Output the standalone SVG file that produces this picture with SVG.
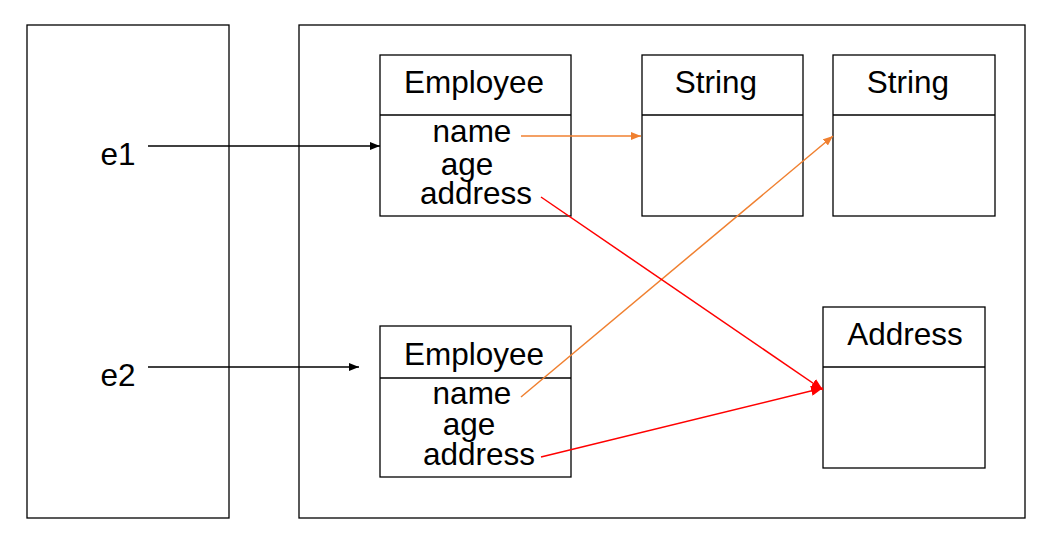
<svg xmlns="http://www.w3.org/2000/svg" width="1054" height="543" viewBox="0 0 1054 543">
<style>
.box{fill:#fff;stroke:#000;stroke-width:1.3}
.div{stroke:#000;stroke-width:1.3}
.t{font-family:"Liberation Sans",Arial,sans-serif;font-size:31.5px;fill:#000;text-anchor:middle}
.blk{stroke:#000;stroke-width:1.5;fill:none}
.org{stroke:#F08030;stroke-width:1.5;fill:none}
.red{stroke:#FF0000;stroke-width:1.5;fill:none}
</style>
<defs>
<marker id="ab" markerWidth="10" markerHeight="8" refX="10" refY="4" orient="auto" markerUnits="userSpaceOnUse"><path d="M0,0 L10,4 L0,8 z" fill="#000"/></marker>
<marker id="ao" markerWidth="10" markerHeight="8" refX="10" refY="4" orient="auto" markerUnits="userSpaceOnUse"><path d="M0,0 L10,4 L0,8 z" fill="#F08030"/></marker>
<marker id="ar" markerWidth="12" markerHeight="10" refX="12" refY="5" orient="auto" markerUnits="userSpaceOnUse"><path d="M0,0 L12,5 L0,10 z" fill="#FF0000"/></marker>
</defs>
<g id="stack"><rect class="box" x="27" y="25" width="202" height="493"/>
<text class="t" x="118" y="165">e1</text>
<text class="t" x="118" y="386">e2</text></g>
<g id="heap"><rect class="box" x="299" y="25" width="726" height="493"/></g>
<g id="employee1"><rect class="box" x="380" y="55" width="191" height="161"/><line class="div" x1="380" y1="115" x2="571" y2="115"/>
<text class="t" x="474" y="93">Employee</text>
<text class="t" x="472" y="142">name</text>
<text class="t" x="467" y="175">age</text>
<text class="t" x="476" y="204">address</text></g>
<g id="string1"><rect class="box" x="642" y="55" width="161" height="161"/><line class="div" x1="642" y1="115" x2="803" y2="115"/>
<text class="t" x="716" y="93">String</text></g>
<g id="string2"><rect class="box" x="833" y="55" width="162" height="161"/><line class="div" x1="833" y1="115" x2="995" y2="115"/>
<text class="t" x="908" y="93">String</text></g>
<g id="address"><rect class="box" x="823" y="307" width="162" height="161"/><line class="div" x1="823" y1="367" x2="985" y2="367"/>
<text class="t" x="905" y="345">Address</text></g>
<g id="employee2"><rect class="box" x="380" y="326" width="191" height="151"/><line class="div" x1="380" y1="378" x2="571" y2="378"/>
<text class="t" x="474" y="365">Employee</text>
<text class="t" x="472" y="404">name</text>
<text class="t" x="469" y="435">age</text>
<text class="t" x="479" y="465">address</text></g>
<g id="connectors">
<line class="blk" x1="148" y1="146" x2="380" y2="146" marker-end="url(#ab)"/>
<line class="blk" x1="148" y1="367" x2="359" y2="367" marker-end="url(#ab)"/>
<line class="org" x1="521" y1="136" x2="641" y2="136" marker-end="url(#ao)"/>
<line class="org" x1="521" y1="397" x2="833" y2="136" marker-end="url(#ao)"/>
<line class="red" x1="541" y1="197" x2="823" y2="390" marker-end="url(#ar)"/>
<line class="red" x1="541" y1="457" x2="823" y2="388" marker-end="url(#ar)"/>
</g>
</svg>
